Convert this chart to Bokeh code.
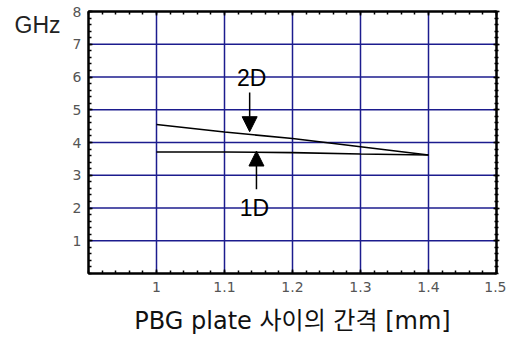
from bokeh.plotting import figure
from bokeh.models import (Range1d, FixedTicker, LinearAxis, Label, Arrow, NormalHead)
from bokeh.embed import file_html
from bokeh.resources import INLINE

# data
gap_mm = [1.0, 1.1, 1.2, 1.3, 1.4]
freq_2d = [4.55, 4.32, 4.12, 3.87, 3.62]
freq_1d = [3.71, 3.71, 3.69, 3.65, 3.62]
x_ticks = [1.0, 1.1, 1.2, 1.3, 1.4, 1.5]
y_ticks = [1, 2, 3, 4, 5, 6, 7, 8]
x_minor = [round(0.9 + 0.02 * i, 2) for i in range(31)]
y_minor = [round(0.2 * i, 1) for i in range(41)]
unit_label = "GHz"
unit_label_y = 7.58

p = figure(width=506, height=337, output_backend="svg", toolbar_location=None,
           x_range=Range1d(0.9, 1.5), y_range=Range1d(0, 8),
           x_axis_type=None, y_axis_type=None,
           min_border_left=88, min_border_right=10, min_border_top=11, min_border_bottom=60)
p.background_fill_color = "white"
p.outline_line_color = "black"
p.outline_line_width = 2

label_font = "DejaVu Sans"
label_color = "#555555"

def make_axis(ticks, minor, show_labels, tin, tout, mtin, mtout):
    ax = LinearAxis(ticker=FixedTicker(ticks=ticks, minor_ticks=minor))
    ax.axis_line_color = "black"
    ax.axis_line_width = 2
    ax.major_tick_line_color = "black"
    ax.major_tick_line_width = 1.5
    ax.minor_tick_line_color = "black"
    ax.minor_tick_line_width = 1.5
    ax.major_tick_in = tin
    ax.major_tick_out = tout
    ax.minor_tick_in = mtin
    ax.minor_tick_out = mtout
    if not show_labels:
        ax.major_label_text_font_size = "0px"
        ax.major_label_text_alpha = 0
        ax.major_label_standoff = 0
    else:
        ax.major_label_text_font = label_font
        ax.major_label_text_font_size = "14px"
        ax.major_label_text_color = label_color
        ax.major_label_standoff = 7
    return ax

xb = make_axis(x_ticks, x_minor, True, 4, 0, 3, 0)
xb.major_label_standoff = 8
xb.major_label_text_line_height = 1.0
xb.axis_label = "PBG plate 사이의 간격 [mm]"
xb.axis_label_text_font = "DejaVu Sans, Noto Sans CJK KR"
xb.axis_label_text_font_size = "24px"
xb.axis_label_text_font_style = "normal"
xb.axis_label_text_color = "#111111"
xb.axis_label_text_line_height = 0.7
xb.axis_label_standoff = 12
p.add_layout(xb, "below")

yl = make_axis(y_ticks, y_minor, True, 4, 0, 3, 0)
yl.major_label_orientation = "horizontal"
p.add_layout(yl, "left")

# unit label as an extra left axis carrying one text at the top
yunit = LinearAxis(ticker=FixedTicker(ticks=[unit_label_y], minor_ticks=[]),
                   major_label_overrides={unit_label_y: unit_label})
yunit.axis_line_color = None
yunit.major_tick_line_color = None
yunit.minor_tick_line_color = None
yunit.major_tick_in = 0
yunit.major_tick_out = 0
yunit.major_label_standoff = 9
yunit.major_label_orientation = "horizontal"
yunit.major_label_text_font = "Liberation Sans"
yunit.major_label_text_font_size = "23px"
yunit.major_label_text_color = "#222222"
p.add_layout(yunit, "left")

xt = make_axis(x_ticks, x_minor, False, 4, 0, 3, 0)
p.add_layout(xt, "above")

yr = make_axis(y_ticks, y_minor, False, 3, 3, 2, 2)
p.add_layout(yr, "right")

grid_color = "#1c1c8e"
for xv in x_ticks[:-1]:
    p.segment(x0=xv, y0=0, x1=xv, y1=8, line_color=grid_color, line_width=1.5)
for yv in y_ticks[:-1]:
    p.segment(x0=0.9, y0=yv, x1=1.5, y1=yv, line_color=grid_color, line_width=1.5)

p.line(gap_mm, freq_2d, line_color="black", line_width=1.6)
p.line(gap_mm, freq_1d, line_color="black", line_width=1.6)

# annotations
p.add_layout(Arrow(end=NormalHead(size=15, fill_color="black", line_color="black"),
                   x_start=1.137, y_start=5.53, x_end=1.137, y_end=4.33,
                   line_color="black", line_width=1.5))
p.add_layout(Arrow(end=NormalHead(size=15, fill_color="black", line_color="black"),
                   x_start=1.147, y_start=2.57, x_end=1.147, y_end=3.74,
                   line_color="black", line_width=1.5))
p.add_layout(Label(x=1.140, y=5.98, text="2D", text_align="center", text_baseline="middle",
                   text_font="Liberation Sans", text_font_size="23px", text_color="black"))
p.add_layout(Label(x=1.144, y=2.01, text="1D", text_align="center", text_baseline="middle",
                   text_font="Liberation Sans", text_font_size="23px", text_color="black"))

p.xgrid.visible = False
p.ygrid.visible = False

open("out.html", "w").write(file_html(p, INLINE))
